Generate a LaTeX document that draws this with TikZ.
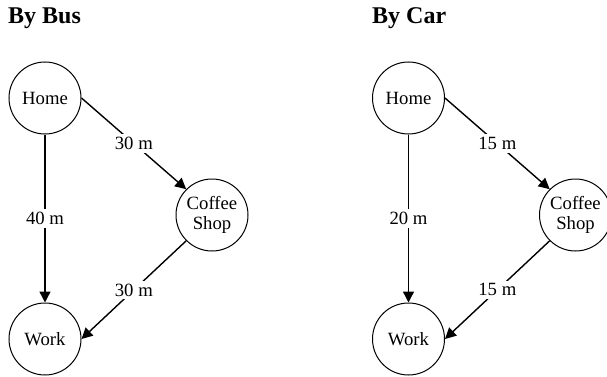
\documentclass[tikz,border=0pt]{standalone}
\usepackage{fontspec}
\setmainfont{Liberation Serif}
\usepackage{tikz}
\usetikzlibrary{positioning, calc}
\usetikzlibrary{arrows.meta}

\begin{document}
\begin{tikzpicture}[x=1pt,y=-1pt,->,>={Triangle[length=11pt,width=11pt]},draw=black!100]
	\def \titleht{24}
	\def \homeht{98}
	\def \shopht{215}
	\def \workht{339}

	\tikzstyle{p-node}=[circle,draw=black!100,line width=1pt,inner sep=0pt,minimum size=72pt,align=center,font=\fontsize{18.7}{20}\selectfont]
	\tikzstyle{title}=[anchor=base west,inner sep=0pt,font=\fontsize{24}{26}\selectfont\bfseries]
	% labels
	\tikzstyle{cost}=[fill=white,inner sep=3pt,font=\fontsize{18.7}{20}\selectfont]

	\useasboundingbox (0,0) rectangle (607,377);

	\node[title]	(bus-title)	at (8,\titleht)		{By Bus};
	\node[title]	(car-title)	at (372,\titleht)	{By Car};

	% by bus
	\node[p-node]	(bhome)	at (45,\homeht)		{Home};
	\node[p-node]	(bshop)	at (212,\shopht)	{Coffee\\Shop};
	\node[p-node]	(bwork)	at (45,\workht)		{Work};

	% by car
	\node[p-node]	(chome)	at (408.5,\homeht)	{Home};
	\node[p-node]	(cshop)	at (575.5,\shopht)	{Coffee\\Shop};
	\node[p-node]	(cwork)	at (408.5,\workht)	{Work};

	\path[line width=1.4pt]
		(bhome.south)		edge	node [cost]	{40 m}	(bwork.north)
		(bhome.east)		edge	node [cost]	{30 m}	(bshop.north west)
		(bshop.south west)	edge	node [cost]	{30 m}	(bwork.east)
		%
		(chome.south)		edge	node [cost]	{20 m}	(cwork.north)
		(chome.east)		edge	node [cost]	{15 m}	(cshop.north west)
		(cshop.south west)	edge	node [cost]	{15 m}	(cwork.east);

\end{tikzpicture}
\end{document}
